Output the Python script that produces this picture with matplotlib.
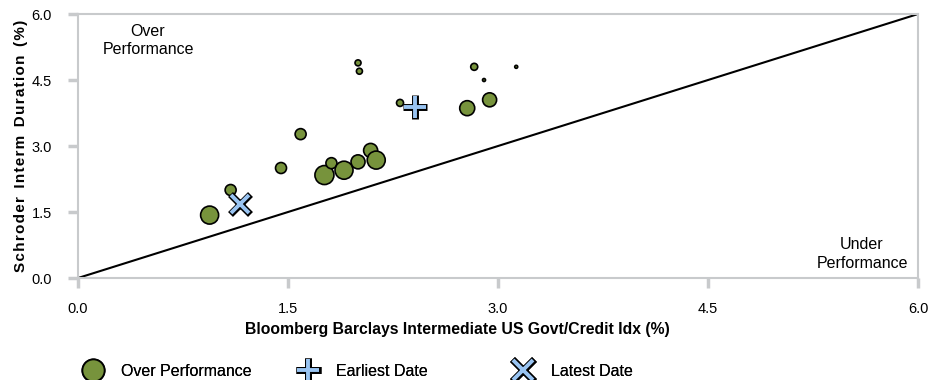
import numpy as np
import matplotlib.pyplot as plt
from matplotlib.lines import Line2D
from matplotlib.legend_handler import HandlerTuple

plt.rcParams['font.family'] = ['Liberation Sans', 'DejaVu Sans']

# bubble data (index return %, fund return %, bubble diameter px)
idx_ret = [0.94, 1.09, 1.45, 1.59, 1.76, 1.81, 1.90, 2.00, 2.09, 2.13,
           2.00, 2.01, 2.30, 2.78, 2.94, 2.83, 2.90, 3.13]
fund_ret = [1.43, 2.00, 2.50, 3.27, 2.34, 2.61, 2.45, 2.64, 2.90, 2.68,
            4.89, 4.70, 3.98, 3.86, 4.05, 4.80, 4.50, 4.80]
bubble = [18, 11, 11, 11, 19, 11, 18, 14, 14, 18, 6, 6, 7, 15, 14, 7, 3, 3]

earliest = (2.41, 3.89)
latest = (1.16, 1.68)

ticks = [0.0, 1.5, 3.0, 4.5, 6.0]
tick_labels = ["0.0", "1.5", "3.0", "4.5", "6.0"]

green = "#77933C"
blue = "#99C4F2"
gray = "#C8CACC"

fig = plt.figure(figsize=(9.3, 3.8), dpi=100)
ax = fig.add_axes([0.0839, 0.2684, 0.9032, 0.6947])

ax.plot([0, 6], [0, 6], color="black", lw=1.5, zorder=1)

sizes = [(d * 0.72) ** 2 for d in bubble]
ax.scatter(idx_ret, fund_ret, s=sizes, c=green, edgecolors="black",
           linewidths=1.2, zorder=3)

# plus / cross markers: black outline under light blue core
for (x, y), m in [(earliest, "+"), (latest, "x")]:
    ms = 17 if m == "+" else 14
    ax.plot(x, y, marker=m, ms=ms, mew=5, color="black", zorder=4)
    ax.plot(x, y, marker=m, ms=ms - 1.5, mew=2.8, color=blue, zorder=5)

ax.set_xlim(0, 6)
ax.set_ylim(0, 6)
ax.set_xticks(ticks)
ax.set_xticklabels(tick_labels)
ax.set_yticks(ticks)
ax.set_yticklabels(tick_labels)
for s in ax.spines.values():
    s.set_color(gray)
    s.set_linewidth(1.5)
ax.tick_params(axis="both", colors=gray, length=7, width=2.5, labelsize=10.5,
               labelcolor="black")
ax.tick_params(axis="x", pad=10)
ax.tick_params(axis="y", pad=12)

ax.set_xlabel("Bloomberg Barclays Intermediate US Govt/Credit Idx (%)",
              fontweight="bold", fontsize=11.3)
ax.xaxis.set_label_coords(0.452, -0.165)
ylab = "  ".join("\u200a".join(w) for w in
                 ["Schroder", "Interm", "Duration", "(%)"])
ax.set_ylabel(ylab, fontweight="bold", fontsize=11, labelpad=2)

ax.text(0.5, 5.4, "Over\nPerformance", ha="center", va="center",
        fontsize=11.5, linespacing=1.3)
ax.text(5.6, 0.55, "Under\nPerformance", ha="center", va="center",
        fontsize=11.5, linespacing=1.3)

h_circle = Line2D([], [], marker="o", ls="", ms=16, mfc=green, mec="black",
                  mew=1.3)
h_plus = (Line2D([], [], marker="+", ls="", ms=18, mew=5, color="black"),
          Line2D([], [], marker="+", ls="", ms=16.5, mew=2.8, color=blue))
h_x = (Line2D([], [], marker="x", ls="", ms=16, mew=5, color="black"),
       Line2D([], [], marker="x", ls="", ms=14.5, mew=2.8, color=blue))
legend_handles = [h_circle, h_plus, h_x]
legend_labels = ["Over Performance", "Earliest Date", "Latest Date"]
legend_x = [0.0862, 0.317, 0.549]
for h, lab, lx in zip(legend_handles, legend_labels, legend_x):
    fig.add_artist(fig.legend([h], [lab],
                              handler_map={tuple: HandlerTuple(ndivide=1, pad=0)},
                              loc="center left", bbox_to_anchor=(lx, 0.023),
                              frameon=False, fontsize=11.5, borderpad=0,
                              borderaxespad=0, handletextpad=0.95,
                              handlelength=1.6))

fig.savefig("out.png", dpi=100)
